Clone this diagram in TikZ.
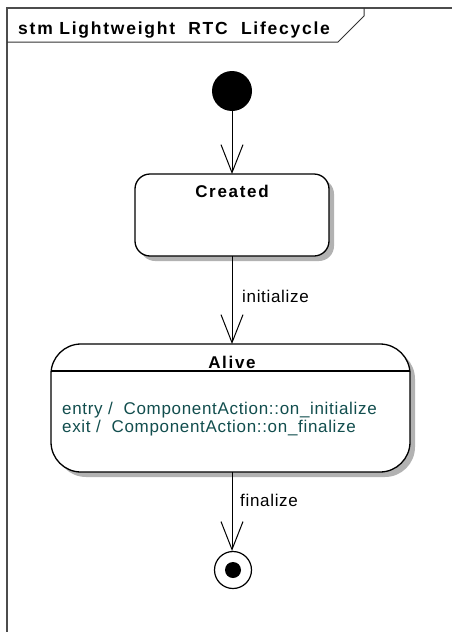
\documentclass[tikz,border=0pt]{standalone}
\usepackage{fontspec}
\setmainfont{Liberation Sans}
\newfontfamily\bodyfont[LetterSpace=4]{Liberation Sans}
\newfontfamily\headfont[LetterSpace=10]{Liberation Sans}
\usetikzlibrary{arrows.meta,shadows}
\definecolor{teal1}{HTML}{124E4E}
\tikzset{
  statebox/.style={draw=black, line width=1.3pt, fill=white, rounded corners=#1,
    drop shadow={shadow xshift=5pt, shadow yshift=-5pt, fill=black!30, opacity=1}},
  trans/.style={draw=black, line width=1pt, -{Straight Barb[length=28pt,width=22pt,line width=1pt]}},
  lbl/.style={font=\bodyfont\fontsize{17}{17.5}\selectfont, anchor=base west, inner sep=0pt},
  ttl/.style={font=\headfont\bfseries\fontsize{17}{19}\selectfont, inner sep=0pt, anchor=base}
}
\begin{document}
\begin{tikzpicture}[x=1pt,y=-1pt]
\useasboundingbox (0,0) rectangle (451,632);
% frame
\draw[black!70, line width=1.4pt] (7,640) -- (7,8) -- (460,8);
\draw[black!80, line width=1pt] (7,42) -- (338,42) -- (364,16) -- (364,8);
\node[ttl, anchor=base west, font=\headfont\bfseries\fontsize{17.5}{19}\selectfont] (title) at (18,34) {stm Lightweight \ RTC \ Lifecycle};
% initial
\node[circle, fill=black, minimum size=40pt, inner sep=0pt] (init) at (232,91) {};
% created
\draw[statebox=15pt] (135,174) rectangle (329,256);
\coordinate (ctop) at (232,174);
\coordinate (cbot) at (232,256);
\node[ttl] (created) at (232,197) {Created};
% alive
\draw[statebox=30pt] (51,344) rectangle (410,472);
\draw[line width=1.3pt] (51.5,371) -- (409.5,371);
\coordinate (atop) at (232,344);
\coordinate (abot) at (232,472);
\node[ttl] (alive) at (232,368) {Alive};
\node[lbl, text=teal1] (entry) at (62,414) {entry / \ ComponentAction::on\_initialize};
\node[lbl, text=teal1] (exit) at (62,432) {exit / \ ComponentAction::on\_finalize};
% final
\node[circle, draw=black, line width=1.2pt, fill=white, minimum size=37pt, inner sep=0pt] (final) at (233,570) {};
\node[circle, fill=black, minimum size=16pt, inner sep=0pt] (finaldot) at (233,570) {};
% transitions
\draw[trans] (init) -- (ctop);
\draw[trans] (cbot) -- (atop);
\node[lbl] (tinit) at (242,302) {initialize};
\draw[trans] (abot) -- (final.north -| abot);
\node[lbl] (tfin) at (240,506) {finalize};
\end{tikzpicture}
\end{document}
